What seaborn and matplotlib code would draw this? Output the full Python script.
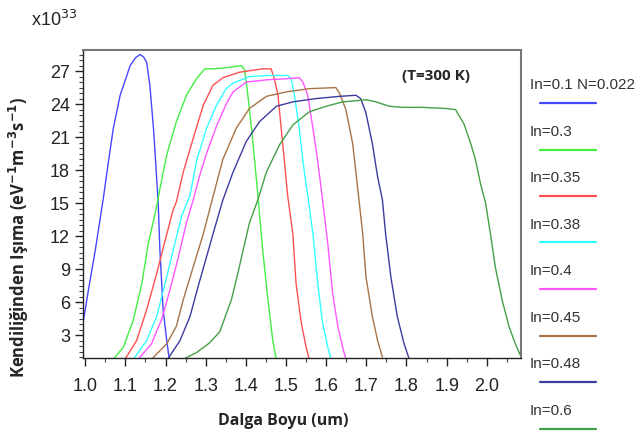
import matplotlib
matplotlib.use("Agg")
import matplotlib.pyplot as plt
from matplotlib.lines import Line2D
from matplotlib.ticker import MultipleLocator
import numpy as np
import pandas as pd
import seaborn as sns

# Spectral spontaneous emission of InGaAsN compositions at T=300 K
labels = ["In=0.1 N=0.022", "In=0.3", "In=0.35", "In=0.38",
          "In=0.4", "In=0.45", "In=0.48", "In=0.6"]
colors = ["#4646ff", "#44ee44", "#ff5050", "#33ffff",
          "#ff55ff", "#a87446", "#3c3ca0", "#44a044"]

x_in010 = [0.996, 1.008, 1.025, 1.045, 1.058, 1.070, 1.087, 1.112, 1.125, 1.1365,
           1.145, 1.153, 1.161, 1.170, 1.178, 1.182, 1.186, 1.194, 1.203, 1.209]
y_in010 = [4.4, 7.1, 10.7, 15.4, 18.8, 21.8, 24.8, 27.5, 28.2, 28.5,
           28.3, 27.8, 25.7, 21.8, 17.2, 14.8, 10.7, 5.3, 2.5, 0.9]

x_in030 = [1.070, 1.095, 1.120, 1.141, 1.157, 1.178, 1.186, 1.203, 1.227, 1.252,
           1.277, 1.298, 1.318, 1.351, 1.389, 1.397, 1.405, 1.414, 1.422, 1.430,
           1.442, 1.455, 1.467, 1.476]
y_in030 = [0.8, 1.9, 4.4, 7.7, 11.3, 14.7, 16.3, 19.4, 22.4, 24.8,
           26.3, 27.2, 27.2, 27.3, 27.5, 27.1, 24.8, 21.8, 18.8, 15.7,
           10.7, 6.2, 2.5, 0.8]

x_in035 = [1.099, 1.128, 1.153, 1.178, 1.199, 1.219, 1.227, 1.244, 1.269, 1.294,
           1.318, 1.343, 1.385, 1.442, 1.463, 1.471, 1.480, 1.488, 1.496, 1.504,
           1.517, 1.525, 1.538, 1.550, 1.558]
y_in035 = [0.8, 2.5, 5.3, 8.6, 11.6, 14.4, 15.1, 17.8, 20.9, 23.9,
           25.7, 26.4, 26.9, 27.2, 27.2, 26.3, 24.8, 21.8, 18.8, 15.7,
           12.2, 7.7, 4.1, 1.9, 0.8]

x_in038 = [1.120, 1.153, 1.178, 1.199, 1.219, 1.240, 1.261, 1.277, 1.302, 1.327,
           1.351, 1.368, 1.409, 1.451, 1.504, 1.513, 1.521, 1.533, 1.542, 1.554,
           1.567, 1.579, 1.591, 1.604, 1.612]
y_in038 = [0.8, 2.5, 4.7, 7.7, 10.7, 13.8, 15.7, 18.8, 21.8, 23.9,
           25.4, 25.9, 26.5, 26.6, 26.6, 26.3, 24.8, 21.8, 18.8, 15.7,
           12.2, 7.7, 4.1, 1.9, 0.8]

x_in040 = [1.132, 1.165, 1.190, 1.211, 1.232, 1.252, 1.269, 1.285, 1.302, 1.327,
           1.351, 1.368, 1.401, 1.451, 1.500, 1.533, 1.542, 1.554, 1.567, 1.579,
           1.591, 1.604, 1.616, 1.629, 1.641, 1.649]
y_in040 = [0.8, 2.2, 4.4, 7.1, 10.1, 13.2, 15.3, 17.5, 19.5, 22.0,
           24.0, 25.1, 26.0, 26.2, 26.3, 26.4, 26.0, 24.8, 21.8, 18.8,
           15.3, 11.3, 6.8, 3.8, 1.9, 0.8]

x_in045 = [1.165, 1.203, 1.227, 1.244, 1.269, 1.294, 1.314, 1.343, 1.376, 1.409,
           1.451, 1.500, 1.558, 1.624, 1.633, 1.649, 1.666, 1.678, 1.691, 1.699,
           1.715, 1.728, 1.740]
y_in045 = [0.8, 2.2, 3.8, 6.2, 9.2, 12.2, 15.0, 19.0, 21.8, 23.6,
           24.7, 25.1, 25.4, 25.5, 25.0, 23.5, 20.4, 16.5, 12.2, 8.3,
           4.7, 2.5, 1.0]

x_in048 = [1.207, 1.236, 1.261, 1.281, 1.302, 1.323, 1.343, 1.368, 1.401, 1.434,
           1.476, 1.517, 1.575, 1.633, 1.674, 1.686, 1.699, 1.715, 1.728, 1.740,
           1.748, 1.761, 1.777, 1.794, 1.806]
y_in048 = [0.9, 2.5, 4.7, 7.4, 10.1, 12.8, 15.3, 17.8, 20.6, 22.4,
           23.8, 24.2, 24.5, 24.7, 24.8, 24.5, 23.2, 20.4, 17.4, 15.3,
           12.2, 8.3, 4.7, 2.2, 0.9]

x_in060 = [1.244, 1.277, 1.310, 1.335, 1.343, 1.364, 1.380, 1.393, 1.409, 1.430,
           1.451, 1.484, 1.517, 1.558, 1.600, 1.641, 1.674, 1.699, 1.724, 1.757,
           1.790, 1.839, 1.897, 1.922, 1.943, 1.960, 1.972, 1.984, 1.997, 2.009,
           2.021, 2.038, 2.055, 2.071, 2.083]
y_in060 = [0.8, 1.4, 2.3, 3.3, 4.1, 6.2, 8.6, 10.7, 13.2, 15.3,
           17.8, 20.3, 22.1, 23.3, 23.8, 24.2, 24.3, 24.4, 24.2, 23.8,
           23.7, 23.7, 23.6, 23.5, 22.2, 20.4, 18.9, 16.8, 15.0, 12.2,
           9.2, 6.2, 3.8, 2.2, 1.2]

series_x = [x_in010, x_in030, x_in035, x_in038, x_in040, x_in045, x_in048, x_in060]
series_y = [y_in010, y_in030, y_in035, y_in038, y_in040, y_in045, y_in048, y_in060]

frames = []
for lab, xs, ys in zip(labels, series_x, series_y):
    frames.append(pd.DataFrame({"wl": xs, "val": ys, "comp": lab}))
df = pd.concat(frames, ignore_index=True)

sns.set_style("ticks")
plt.rcParams["font.family"] = ["Liberation Sans", "DejaVu Sans"]

fig = plt.figure(figsize=(6.4, 4.4), dpi=100)
ax = fig.add_axes([0.130, 0.186, 0.684, 0.700])

sns.lineplot(data=df, x="wl", y="val", hue="comp", hue_order=labels,
             palette=colors, sort=False, estimator=None, linewidth=1.0,
             legend=False, ax=ax)

ax.set_xlim(0.995, 2.085)
ax.set_ylim(0.9, 28.9)
ax.xaxis.set_minor_locator(MultipleLocator(0.05))
ax.yaxis.set_minor_locator(MultipleLocator(0.5))
ax.set_xticks(np.arange(1.0, 2.01, 0.1))
ax.set_xticklabels([f"{v:.1f}" for v in np.arange(1.0, 2.01, 0.1)])
ax.set_yticks(np.arange(3, 28, 3))
ax.tick_params(axis="both", which="major", labelsize=13, length=6, width=1.0,
               direction="out", colors="#222222")
ax.tick_params(axis="both", which="minor", length=3, width=0.8, direction="out",
               colors="#444444")
ax.tick_params(axis="x", pad=8)

for side in ["left", "bottom"]:
    ax.spines[side].set_color("#222222")
    ax.spines[side].set_linewidth(1.0)
for side in ["top", "right"]:
    ax.spines[side].set_visible(True)
    ax.spines[side].set_color("#777777")
    ax.spines[side].set_linewidth(1.5)

ax.set_xlabel("")
ax.set_ylabel("")
bold_font = ["Open Sans", "DejaVu Sans"]
fig.text(283 / 640, 1 - 421 / 440, "Dalga Boyu (um)", fontsize=11.5,
         fontweight="bold", family=bold_font, ha="center", va="center")
fig.text(19 / 640, 1 - 237 / 440,
         "Kendiliğinden Işıma (eV$^{\\mathbf{-1}}$m$^{\\mathbf{-3}}$s$^{\\mathbf{-1}}$)",
         fontsize=12, fontweight="bold", family=bold_font, rotation=90,
         ha="center", va="center")

ax.text(0.805, 0.917, "(T=300 K)", transform=ax.transAxes, ha="center", va="center",
        fontsize=11, fontweight="bold", family=bold_font)

fig.text(0.048, 0.955, "x10$^{33}$", fontsize=13, ha="left", va="center",
         color="#222222")

# legend column to the right of the axes: label above a short colour sample
W, H = 640.0, 440.0
y0, step = 85.0, 46.5
for i, (lab, col) in enumerate(zip(labels, colors)):
    ty = y0 + i * step
    fig.text(530 / W, 1 - ty / H, lab, fontsize=11, ha="left", va="center",
             color="#333333")
    ly = 1 - (ty + 18) / H
    fig.add_artist(Line2D([540 / W, 596 / W], [ly, ly], color=col, lw=1.6,
                          transform=fig.transFigure))

fig.savefig("out.png", dpi=100)
